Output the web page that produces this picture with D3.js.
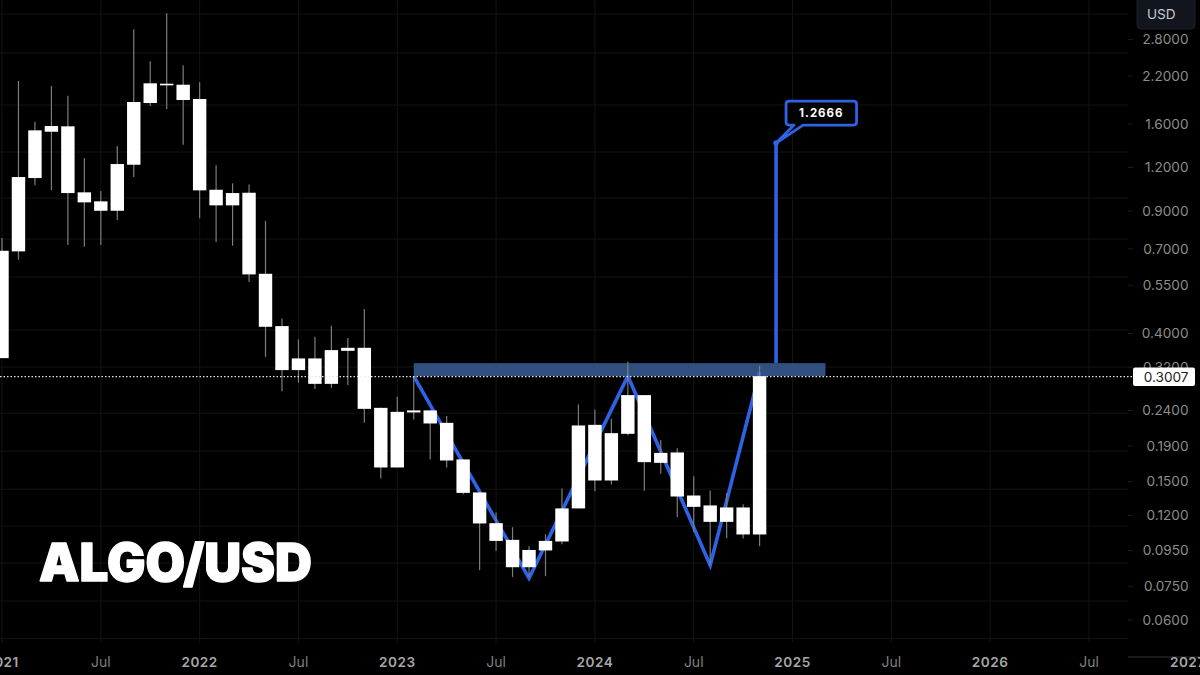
<!DOCTYPE html>
<html><head><meta charset="utf-8">
<script src="https://cdn.jsdelivr.net/npm/d3@7/dist/d3.min.js"></script>
<style>html,body{margin:0;background:#000;overflow:hidden}svg{display:block}text{font-family:Inter,"Noto Sans",sans-serif}</style>
</head><body><svg id="c" width="1200" height="675"></svg>
<script>
// Monthly candles, first month Jan 2021 (month index 0)
const highs=[0.7521,2.1272,1.6246,2.0579,1.9298,1.2749,1.0267,1.3831,2.9957,2.4236,3.3305,2.3602,2.1089,1.2171,1.0804,1.0718,0.8433,0.4419,0.3845,0.3912,0.4207,0.3878,0.4699,0.2444,0.2629,0.3001,0.2403,0.2314,0.1737,0.1396,0.1223,0.1109,0.0978,0.1059,0.1433,0.2500,0.2419,0.2273,0.3315,0.2659,0.1974,0.1872,0.1555,0.1414,0.1392,0.1292,0.3228];
const bodyTops=[0.6914,1.1264,1.5346,1.5790,1.5758,1.0179,0.9590,1.2277,1.8510,2.0950,2.0895,2.0757,1.8881,1.0355,1.0131,1.0152,0.5937,0.4199,0.3390,0.3390,0.3582,0.3637,0.3637,0.2444,0.2380,0.2403,0.2403,0.2213,0.1737,0.1396,0.1139,0.1020,0.0954,0.1013,0.1256,0.2175,0.2184,0.2067,0.2659,0.2659,0.1814,0.1819,0.1368,0.1281,0.1264,0.1264,0.3015];
const bodyBottoms=[0.3397,0.6886,1.1190,1.5205,1.0131,0.9526,0.9011,0.9011,1.2220,1.8388,2.0674,1.8757,1.0314,0.9339,0.9339,0.5913,0.4180,0.3138,0.3138,0.2865,0.2865,0.3565,0.2428,0.1647,0.1647,0.2371,0.2204,0.1725,0.1392,0.1137,0.1013,0.0851,0.0851,0.0951,0.1009,0.1256,0.1511,0.1511,0.2058,0.1706,0.1698,0.1359,0.1269,0.1149,0.1149,0.1057,0.1057];
const lows=[0.3397,0.6514,1.0662,1.0335,0.7180,0.7099,0.7180,0.8473,1.1264,1.8026,1.7671,1.3951,0.8569,0.7324,0.7147,0.5620,0.3427,0.2730,0.2885,0.2767,0.2791,0.2841,0.2213,0.1531,0.1647,0.2264,0.1737,0.1647,0.1378,0.0836,0.0948,0.0798,0.0797,0.0802,0.0991,0.1256,0.1408,0.1472,0.2040,0.1411,0.1579,0.1185,0.1075,0.0862,0.1031,0.1029,0.0978];

const priceTicks=[2.8,2.2,1.6,1.2,0.9,0.7,0.55,0.4,0.32,0.24,0.19,0.15,0.12,0.095,0.075,0.06];
const priceGrid=[3.3151,2.5605,1.8146,1.3292,0.9802,0.7471,0.5809,0.4089,0.3201,0.2360,0.1835,0.1427,0.1117,0.0875,0.0680,0.0531];
const timeLabels=["2021","Jul","2022","Jul","2023","Jul","2024","Jul","2025","Jul","2026","Jul","2027"];
const timeMonths=[0,6,12,18,24,30,36,42,48,54,60,66,72];

const patternMonths=[25,32,38,43,46];
const patternPrices=[0.3015,0.0791,0.3015,0.0862,0.3096];
const zoneMonths=[25,50];
const zonePrices=[0.3286,0.3015];
const targetMonth=47;
const targetPrices=[0.3286,1.4108];
const targetLabel="1.2666";
const lastPrice=0.3007;
const title="ALGO/USD";
const currency="USD";

const plotR=1128, plotB=643;
const x=d3.scaleLinear().domain([0,72]).range([2,1187.8]);
const y=d3.scaleLog().domain([2.8,0.06]).range([39.5,620]);
const svg=d3.select("#c");
svg.append("rect").attr("width",1200).attr("height",675).attr("fill","#000");
const BLUE="#2f62e6";

// grid
svg.append("g").selectAll("line").data(priceGrid).join("line")
 .attr("x1",0).attr("x2",plotR).attr("y1",d=>y(d)).attr("y2",d=>y(d)).attr("stroke","#141414");
svg.append("g").selectAll("line").data(timeMonths.filter(m=>x(m)<plotR)).join("line")
 .attr("x1",d=>x(d)).attr("x2",d=>x(d)).attr("y1",0).attr("y2",plotB).attr("stroke","#141414");

// zone
svg.append("rect").attr("x",x(zoneMonths[0])).attr("width",x(zoneMonths[1])-x(zoneMonths[0]))
 .attr("y",y(zonePrices[0])).attr("height",y(zonePrices[1])-y(zonePrices[0])).attr("fill","#31507f");

// pattern line, behind candles
const line=d3.line().x(d=>x(d[0])).y(d=>y(d[1]));
svg.append("path").datum(patternMonths.map((m,i)=>[m,patternPrices[i]])).attr("d",line)
 .attr("fill","none").attr("stroke",BLUE).attr("stroke-width",3.6).attr("stroke-linejoin","miter");

// candles
const bw=13.4;
const g=svg.append("g");
g.selectAll("line").data(highs).join("line")
 .attr("x1",(d,i)=>x(i)).attr("x2",(d,i)=>x(i)).attr("y1",d=>y(d)).attr("y2",(d,i)=>y(lows[i]))
 .attr("stroke","#7d7d7d").attr("stroke-width",1.2);
g.selectAll("rect").data(bodyTops).join("rect")
 .attr("x",(d,i)=>x(i)-bw/2).attr("width",bw)
 .attr("y",d=>y(d)).attr("height",(d,i)=>Math.max(1.5,y(bodyBottoms[i])-y(d)))
 .attr("fill","#fff");

// last price dotted line
svg.append("line").attr("x1",0).attr("x2",plotR+5).attr("y1",y(lastPrice)).attr("y2",y(lastPrice))
 .attr("stroke","#e8e8e8").attr("stroke-width",1.2).attr("stroke-dasharray","1.5 2");

// target line + callout
const tx=x(targetMonth), ty0=y(targetPrices[0]), ty1=y(targetPrices[1]);
svg.append("line").attr("x1",tx).attr("x2",tx).attr("y1",ty0).attr("y2",ty1).attr("stroke",BLUE).attr("stroke-width",3.6);
svg.append("circle").attr("cx",tx).attr("cy",ty1).attr("r",2.8).attr("fill",BLUE);
const bx0=tx+10,bx1=tx+80.5,bt=ty1-42,bb=ty1-18,r=3;
svg.append("path").attr("d",`M${tx},${ty1} L${bx0+8},${bb} L${bx0+r},${bb} Q${bx0},${bb} ${bx0},${bb-r} L${bx0},${bt+r} Q${bx0},${bt} ${bx0+r},${bt} L${bx1-r},${bt} Q${bx1},${bt} ${bx1},${bt+r} L${bx1},${bb-r} Q${bx1},${bb} ${bx1-r},${bb} L${bx0+17},${bb} Z`)
 .attr("fill","#000").attr("stroke",BLUE).attr("stroke-width",2.8).attr("stroke-linejoin","round");
svg.append("text").attr("x",(bx0+bx1)/2).attr("y",(bt+bb)/2).attr("dy","0.36em").attr("text-anchor","middle")
 .attr("font-size",11.5).attr("font-weight",700).attr("letter-spacing",1).attr("fill","#fff").text(targetLabel);

// title
svg.append("text").attr("x",39).attr("y",581).attr("font-size",52).attr("font-weight",900)
 .attr("textLength",273).attr("lengthAdjust","spacingAndGlyphs")
 .attr("fill","#fff").attr("stroke","#fff").attr("stroke-width",1.3).attr("stroke-linejoin","round").text(title);

// price axis
svg.append("g").selectAll("line").data(priceTicks).join("line").attr("x1",plotR).attr("x2",plotR+5)
 .attr("y1",d=>y(d)).attr("y2",d=>y(d)).attr("stroke","#1c1c1c");
svg.append("g").selectAll("text").data(priceTicks).join("text")
 .attr("x",1188.5).attr("y",d=>y(d)).attr("dy","0.36em").attr("text-anchor","end")
 .attr("font-size",13.6).attr("fill","#8c8c8c").text(d=>d.toFixed(4));
// last price tag
svg.append("rect").attr("x",1133).attr("y",y(lastPrice)-9).attr("width",62).attr("height",18.5).attr("rx",2).attr("fill","#fff");
svg.append("text").attr("x",1188.5).attr("y",y(lastPrice)).attr("dy","0.37em").attr("text-anchor","end")
 .attr("font-size",13.6).attr("fill","#222").text(lastPrice.toFixed(4));
// currency button
svg.append("rect").attr("x",1137).attr("y",-6).attr("width",58).attr("height",35).attr("rx",4)
 .attr("fill","#12151e").attr("stroke","#1d2029");
svg.append("text").attr("x",1147).attr("y",14.5).attr("dy","0.36em").attr("font-size",13.6).attr("fill","#c4c6cc").text(currency);

// time axis
svg.append("line").attr("x1",plotR).attr("x2",1200).attr("y1",657).attr("y2",657).attr("stroke","#333");
svg.append("g").selectAll("text").data(timeLabels).join("text")
 .attr("x",(d,i)=>x(timeMonths[i])).attr("y",662).attr("dy","0.36em").attr("text-anchor","middle")
 .attr("font-size",d=>d==="Jul"?14:13.6).attr("font-weight",d=>d==="Jul"?400:600).attr("letter-spacing",d=>d==="Jul"?0:0.5)
 .attr("fill",d=>d==="Jul"?"#7f7f7f":"#a6a6a6").text(d=>d);
</script></body></html>
